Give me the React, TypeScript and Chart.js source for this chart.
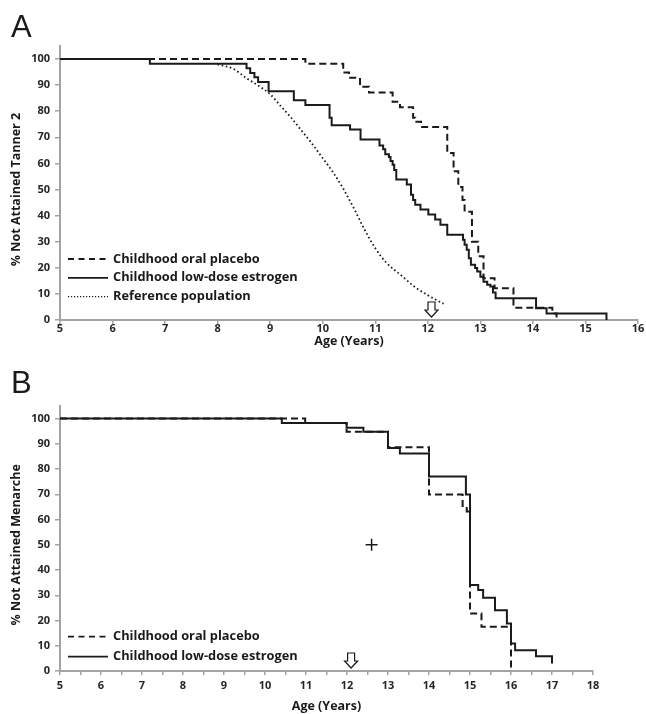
import React, { useEffect, useRef } from 'react';
import { Chart, registerables } from 'chart.js';

Chart.register(...registerables);

// ---------- Panel A: Tanner 2 ----------
const tannerXTicks = [5, 6, 7, 8, 9, 10, 11, 12, 13, 14, 15, 16];
const yTicks = [0, 10, 20, 30, 40, 50, 60, 70, 80, 90, 100];

const tannerPlaceboAge = [5, 9.67, 10.39, 10.5, 10.71, 10.88, 11.33, 11.47, 11.72, 11.76, 11.87, 12.37, 12.49, 12.58, 12.66, 12.7, 12.84, 12.96, 13.06, 13.27, 13.63, 14.37, 14.45];
const tannerPlaceboPct = [100, 98.2, 94.8, 92.8, 89.4, 87.2, 83.6, 81.5, 77.5, 76, 74, 64, 57, 51, 46, 41.5, 30, 24.4, 16, 12.2, 4.7, 2.5, 0];

const tannerEstrogenAge = [5, 6.71, 8.55, 8.62, 8.7, 8.77, 8.97, 9.45, 9.67, 10.13, 10.17, 10.52, 10.72, 11.08, 11.15, 11.19, 11.26, 11.29, 11.33, 11.36, 11.4, 11.6, 11.68, 11.72, 11.76, 11.86, 12.01, 12.14, 12.24, 12.37, 12.67, 12.7, 12.74, 12.78, 12.82, 12.9, 12.94, 13.0, 13.06, 13.13, 13.19, 13.24, 13.29, 14.06, 14.26, 15.4];
const tannerEstrogenPct = [100, 98.2, 96.5, 94.7, 93, 91.2, 87.7, 84.2, 82.4, 77.5, 74.6, 73, 69.2, 66.9, 65.4, 63.5, 62.5, 60.9, 59.5, 57.5, 53.8, 51.9, 48, 46, 44.2, 42.3, 40.4, 38.5, 36.5, 32.7, 30.8, 28.8, 26.9, 23.7, 21.2, 19.9, 18.6, 16.6, 14.7, 13.5, 12.8, 10.5, 8.3, 4.5, 2.5, 0];

const tannerReferenceAge = [8.0, 8.3, 8.56, 8.8, 9.0, 9.2, 9.4, 9.6, 9.8, 10.0, 10.2, 10.4, 10.6, 10.8, 11.0, 11.2, 11.5, 11.75, 12.0, 12.3];
const tannerReferencePct = [98, 96.2, 92.5, 89.5, 86.5, 82, 77.5, 72.5, 67.5, 62, 56.5, 50, 42.5, 34.5, 27.5, 22.2, 17, 12.7, 9.5, 6.2];

const tannerArrowAge = 12.07;
const tannerLegend = ['Childhood oral placebo', 'Childhood low-dose estrogen', 'Reference population'];

// ---------- Panel B: Menarche ----------
const menarcheXTicks = [5, 5.5, 6, 6.5, 7, 7.5, 8, 8.5, 9, 9.5, 10, 10.5, 11, 11.5, 12, 12.5, 13, 13.5, 14, 14.5, 15, 15.5, 16, 16.5, 17, 17.5, 18];

const menarchePlaceboAge = [5, 10.98, 11.99, 13.0, 14.0, 14.82, 14.92, 15.0, 15.28, 16.0];
const menarchePlaceboPct = [100, 98.3, 94.8, 88.7, 69.9, 65.4, 63.2, 22.8, 17.5, 0];

const menarcheEstrogenAge = [5, 10.41, 11.99, 12.4, 13.0, 13.29, 14.0, 14.9, 15.0, 15.2, 15.32, 15.61, 15.9, 16.0, 16.1, 16.61, 17.0];
const menarcheEstrogenPct = [100, 98.3, 96.4, 94.8, 88.4, 86.2, 77.1, 69.9, 34.1, 32.1, 29, 24.1, 18.8, 10.9, 8.2, 5.8, 3];

const menarcheMarkerAge = [12.6];
const menarcheMarkerPct = [50];
const menarcheArrowAge = 12.1;
const menarcheLegend = ['Childhood oral placebo', 'Childhood low-dose estrogen'];

// ---------- styling ----------
const INK = '#1a1a1a';
const AXIS = '#a3a3a3';
const FONT = '"Open Sans", "Noto Sans", sans-serif';
const DASH = [7, 4];
const DOT = [1.6, 2.6];

const toXY = (xs: number[], ys: number[]) => xs.map((x, i) => ({ x, y: ys[i] }));

const decorPlugin = {
  id: 'decor',
  afterDatasetsDraw(chart: any, _args: any, opts: any) {
    const { ctx, chartArea, scales } = chart;
    ctx.save();
    ctx.fillStyle = INK;
    // panel letter
    ctx.font = '31px "Liberation Sans", Arial, sans-serif';
    ctx.textAlign = 'left';
    ctx.textBaseline = 'alphabetic';
    ctx.fillText(opts.letter, 11, opts.letterBaseline);
    // y title
    ctx.save();
    ctx.translate(16, scales.y.getPixelForValue(50));
    ctx.rotate(-Math.PI / 2);
    ctx.font = `bold 12.5px ${FONT}`;
    ctx.textAlign = 'center';
    ctx.textBaseline = 'middle';
    ctx.fillText(opts.yTitle, 0, 0);
    ctx.restore();
    // legend
    const x0 = chartArea.left + 8;
    (opts.legend as string[]).forEach((label, i) => {
      const y = chartArea.bottom + opts.legendOffset + i * opts.legendGap;
      const style = opts.legendStyles[i];
      ctx.save();
      ctx.strokeStyle = INK;
      ctx.lineWidth = style === 'dotted' ? 1.4 : 1.8;
      ctx.setLineDash(style === 'dashed' ? [6, 4.5] : style === 'dotted' ? [1.2, 1.8] : []);
      ctx.beginPath();
      ctx.moveTo(x0, y);
      ctx.lineTo(x0 + 40, y);
      ctx.stroke();
      ctx.restore();
      ctx.font = `bold 12.8px ${FONT}`;
      ctx.textAlign = 'left';
      ctx.textBaseline = 'middle';
      ctx.fillText(label, x0 + 45, y);
    });
    // hollow arrow
    const cx = scales.x.getPixelForValue(opts.arrowAge);
    const tip = chartArea.bottom - 3;
    const top = tip - 15;
    ctx.beginPath();
    ctx.moveTo(cx - 3.5, top);
    ctx.lineTo(cx + 3.5, top);
    ctx.lineTo(cx + 3.5, top + 8);
    ctx.lineTo(cx + 6.5, top + 8);
    ctx.lineTo(cx, tip);
    ctx.lineTo(cx - 6.5, top + 8);
    ctx.lineTo(cx - 3.5, top + 8);
    ctx.closePath();
    ctx.fillStyle = '#ffffff';
    ctx.fill();
    ctx.strokeStyle = INK;
    ctx.lineWidth = 1.2;
    ctx.stroke();
    ctx.restore();
  },
};

function lineSet(label: string, data: any[], dash: number[], width = 2, smooth = false) {
  return {
    type: 'line',
    label,
    data,
    borderColor: INK,
    backgroundColor: INK,
    borderWidth: width,
    borderDash: dash,
    pointRadius: 0,
    fill: false,
    stepped: smooth ? false : 'before',
    cubicInterpolationMode: smooth ? 'monotone' : 'default',
    tension: 0,
  };
}

function makeConfig(p: any) {
  return {
    type: 'line',
    data: { datasets: p.datasets },
    plugins: [decorPlugin],
    options: {
      animation: false,
      responsive: false,
      devicePixelRatio: 1,
      layout: { padding: { top: p.padTop, right: p.padRight, left: 0, bottom: 0 } },
      plugins: {
        legend: { display: false },
        tooltip: { enabled: false },
        decor: p.decor,
      },
      scales: {
        x: {
          type: 'linear',
          min: p.xMin,
          max: p.xMax,
          afterBuildTicks: (s: any) => {
            s.ticks = p.xTicks.map((v: number) => ({ value: v }));
          },
          afterFit: (s: any) => {
            s.height = p.xHeight;
          },
          ticks: {
            autoSkip: false,
            maxRotation: 0,
            padding: p.xTickPad,
            color: '#262626',
            font: { family: FONT, size: 11, weight: 'bold' },
            callback: (v: number) => (Number.isInteger(v) ? String(v) : ''),
          },
          grid: { drawOnChartArea: false, drawTicks: true, tickLength: 4, color: AXIS, lineWidth: 1.5 },
          border: { display: true, color: AXIS, width: 2 },
          title: {
            display: true,
            text: 'Age (Years)',
            color: INK,
            font: { family: FONT, size: 12.5, weight: 'bold' },
            padding: { top: 0, bottom: p.xTitlePad },
          },
        },
        y: {
          type: 'linear',
          min: 0,
          max: 105,
          afterBuildTicks: (s: any) => {
            s.ticks = yTicks.map((v) => ({ value: v }));
          },
          afterFit: (s: any) => {
            s.width = 60;
          },
          ticks: {
            padding: 5,
            color: '#262626',
            font: { family: FONT, size: 11, weight: 'bold' },
          },
          grid: { drawOnChartArea: false, drawTicks: true, tickLength: 5, color: AXIS, lineWidth: 1.5 },
          border: { display: true, color: AXIS, width: 2 },
        },
      },
    },
  };
}

export default function App() {
  const refA = useRef<HTMLCanvasElement>(null);
  const refB = useRef<HTMLCanvasElement>(null);

  useEffect(() => {
    const chartA = new Chart(refA.current as HTMLCanvasElement, makeConfig({
      datasets: [
        lineSet('Childhood oral placebo', toXY(tannerPlaceboAge, tannerPlaceboPct), DASH),
        lineSet('Childhood low-dose estrogen', toXY(tannerEstrogenAge, tannerEstrogenPct), []),
        lineSet('Reference population', toXY(tannerReferenceAge, tannerReferencePct), DOT, 1.8, true),
      ],
      padTop: 46,
      padRight: 8,
      xMin: 5,
      xMax: 16,
      xTicks: tannerXTicks,
      xHeight: 35,
      xTickPad: -2,
      xTitlePad: 6,
      decor: {
        letter: 'A',
        letterBaseline: 37,
        yTitle: '% Not Attained Tanner 2',
        legend: tannerLegend,
        legendStyles: ['dashed', 'solid', 'dotted'],
        legendOffset: -61,
        legendGap: 18.8,
        arrowAge: tannerArrowAge,
      },
    }) as any);

    const chartB = new Chart(refB.current as HTMLCanvasElement, makeConfig({
      datasets: [
        lineSet('Childhood oral placebo', toXY(menarchePlaceboAge, menarchePlaceboPct), DASH),
        lineSet('Childhood low-dose estrogen', toXY(menarcheEstrogenAge, menarcheEstrogenPct), []),
        {
          type: 'scatter',
          label: 'marker',
          data: toXY(menarcheMarkerAge, menarcheMarkerPct),
          pointStyle: 'cross',
          pointRadius: 6,
          borderColor: INK,
          borderWidth: 1.5,
          showLine: false,
        },
      ],
      padTop: 51,
      padRight: 53,
      xMin: 5,
      xMax: 18,
      xTicks: menarcheXTicks,
      xHeight: 43,
      xTickPad: 4.5,
      xTitlePad: 0,
      decor: {
        letter: 'B',
        letterBaseline: 38,
        yTitle: '% Not Attained Menarche',
        legend: menarcheLegend,
        legendStyles: ['dashed', 'solid'],
        legendOffset: -34.3,
        legendGap: 20,
        arrowAge: menarcheArrowAge,
      },
    }) as any);

    return () => {
      chartA.destroy();
      chartB.destroy();
    };
  }, []);

  return (
    <div style={{ position: 'absolute', left: 0, top: 0, width: 646, height: 714, background: '#fff' }}>
      <canvas ref={refA} width={646} height={355} style={{ position: 'absolute', left: 0, top: 0, width: 646, height: 355 }} />
      <canvas ref={refB} width={646} height={359} style={{ position: 'absolute', left: 0, top: 355, width: 646, height: 359 }} />
    </div>
  );
}
